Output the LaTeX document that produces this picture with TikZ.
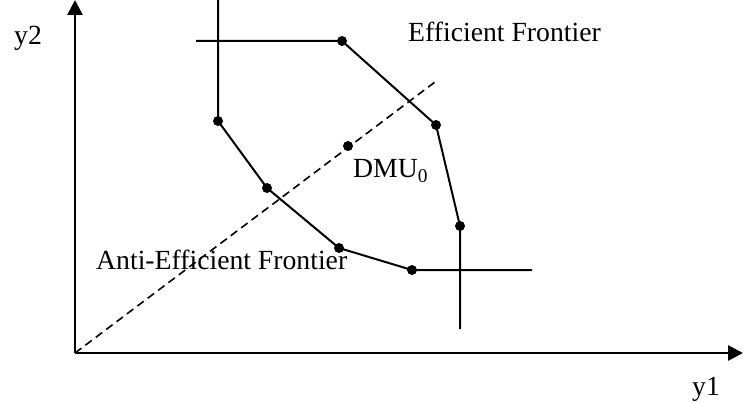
\documentclass[tikz,border=0pt]{standalone}
\usepackage{fontspec}
\setmainfont{Liberation Serif}
\usetikzlibrary{arrows.meta}
\begin{document}
\begin{tikzpicture}[x=1pt,y=-1pt,
  axis/.style={line width=2.7pt,-{Triangle[length=15pt,width=15pt]}},
  frontier/.style={line width=2pt},
  guide/.style={line width=1.6pt,dash pattern=on 8pt off 5pt},
  dot/.style={circle,fill=black,inner sep=0pt,minimum size=10pt},
  lbl/.style={anchor=base west,inner sep=0pt,font=\fontsize{27.7}{30}\selectfont}]
\useasboundingbox (0,0) rectangle (743,403);

% axes
\coordinate (o) at (75,353);
\coordinate (ytip) at (75,0);
\coordinate (xtip) at (743,353);
\draw[axis] (o) -- (ytip);
\draw[axis] (o) -- (xtip);
\node[lbl] (ylab) at (14,45) {y2};
\node[lbl] (xlab) at (692,395) {y1};

% ray through the unit under evaluation
\coordinate (rayend) at (435,82);
\draw[guide] (o) -- (rayend);
\node[dot] (dmu) at (348,146) {};
\node[lbl] (dmulab) at (353,178) {DMU\textsubscript{0}};

% frontier vertices
\node[dot] (a) at (218,121) {};
\node[dot] (b) at (267,188) {};
\node[dot] (c) at (339,248) {};
\node[dot] (d) at (412,270) {};
\node[dot] (e) at (460,226) {};
\node[dot] (f) at (436,125) {};
\node[dot] (g) at (342,41) {};

% free ends of the frontier extensions
\coordinate (atop) at (218,0);
\coordinate (gleft) at (196,41);
\coordinate (eend) at (460,329);
\coordinate (dend) at (532,270);

\draw[frontier] (atop) -- (a.center) -- (b.center) -- (c.center) -- (d.center) -- (dend);
\draw[frontier] (gleft) -- (g.center) -- (f.center) -- (e.center) -- (eend);

% labels
\node[lbl] (eff) at (408,42) {Efficient Frontier};
\node[lbl] (anti) at (96,269) {Anti-Efficient Frontier};
\end{tikzpicture}
\end{document}
